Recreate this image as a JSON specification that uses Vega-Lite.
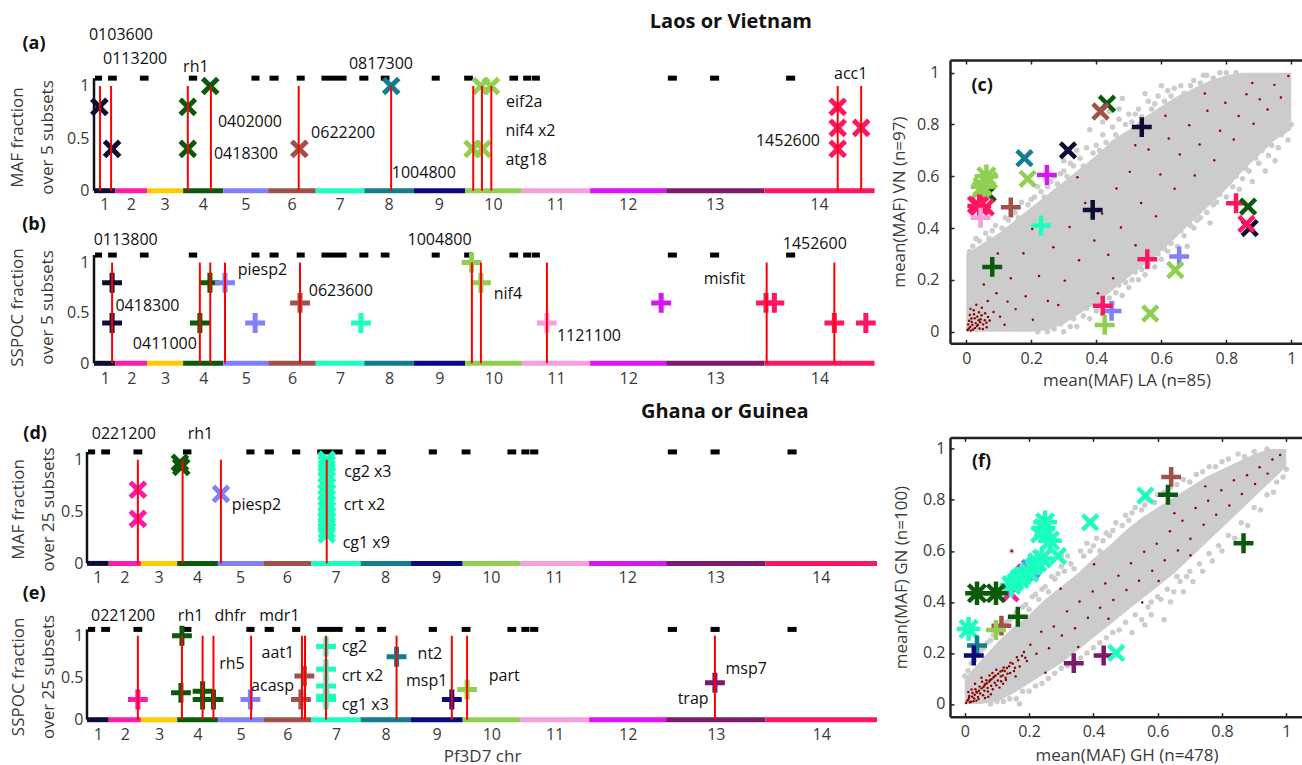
{
"$schema":"https://vega.github.io/schema/vega-lite/v6.json",
"padding":{"left":8,"top":12,"right":0,"bottom":0},
"background":"white",
"config":{"view":{"stroke":null},"axis":{"labelFont":"Open Sans","titleFont":"Open Sans","labelColor":"#3a3a3a","titleColor":"#3a3a3a","grid":false},"text":{"font":"Open Sans"}},
"datasets":{
"chroms":[{"chr":1,"start":0,"end":0.64,"mid":0.32},{"chr":2,"start":0.64,"end":1.59,"mid":1.115},{"chr":3,"start":1.59,"end":2.66,"mid":2.125},{"chr":4,"start":2.66,"end":3.86,"mid":3.26},{"chr":5,"start":3.86,"end":5.2,"mid":4.53},{"chr":6,"start":5.2,"end":6.62,"mid":5.91},{"chr":7,"start":6.62,"end":8.07,"mid":7.345},{"chr":8,"start":8.07,"end":9.54,"mid":8.805},{"chr":9,"start":9.54,"end":11.08,"mid":10.31},{"chr":10,"start":11.08,"end":12.77,"mid":11.925},{"chr":11,"start":12.77,"end":14.81,"mid":13.79},{"chr":12,"start":14.81,"end":17.08,"mid":15.945},{"chr":13,"start":17.08,"end":20.01,"mid":18.545},{"chr":14,"start":20.01,"end":23.3,"mid":21.655}],
"dashes":[{"start":0.03,"end":0.24},{"start":0.42,"end":0.68},{"start":1.37,"end":1.63},{"start":2.83,"end":3.08},{"start":4.7,"end":4.94},{"start":5.24,"end":5.51},{"start":6.05,"end":6.29},{"start":6.79,"end":7.54},{"start":7.92,"end":8.19},{"start":8.56,"end":8.82},{"start":10.08,"end":10.32},{"start":11.05,"end":11.31},{"start":12.4,"end":12.66},{"start":12.81,"end":13.05},{"start":13.07,"end":13.31},{"start":17.13,"end":17.4},{"start":18.39,"end":18.66},{"start":20.66,"end":20.93}],
"marks":[
{"panel":"a","pos":0.16,"frac":0.8,"chr":1,"type":"MAF"},{"panel":"a","pos":0.54,"frac":0.4,"chr":1,"type":"MAF"},{"panel":"a","pos":2.8,"frac":0.8,"chr":4,"type":"MAF"},{"panel":"a","pos":2.8,"frac":0.4,"chr":4,"type":"MAF"},{"panel":"a","pos":3.47,"frac":1,"chr":4,"type":"MAF"},{"panel":"a","pos":6.13,"frac":0.4,"chr":6,"type":"MAF"},{"panel":"a","pos":8.87,"frac":1,"chr":8,"type":"MAF"},{"panel":"a","pos":11.55,"frac":1,"chr":10,"type":"MAF"},{"panel":"a","pos":11.85,"frac":1,"chr":10,"type":"MAF"},{"panel":"a","pos":11.3,"frac":0.4,"chr":10,"type":"MAF"},{"panel":"a","pos":11.6,"frac":0.4,"chr":10,"type":"MAF"},{"panel":"a","pos":22.2,"frac":0.8,"chr":14,"type":"MAF"},{"panel":"a","pos":22.2,"frac":0.6,"chr":14,"type":"MAF"},{"panel":"a","pos":22.2,"frac":0.4,"chr":14,"type":"MAF"},{"panel":"a","pos":22.9,"frac":0.6,"chr":14,"type":"MAF"},
{"panel":"b","pos":0.54,"frac":0.8,"chr":1,"type":"SSPOC"},{"panel":"b","pos":0.54,"frac":0.4,"chr":1,"type":"SSPOC"},{"panel":"b","pos":3.46,"frac":0.8,"chr":4,"type":"SSPOC"},{"panel":"b","pos":3.16,"frac":0.4,"chr":4,"type":"SSPOC"},{"panel":"b","pos":3.91,"frac":0.8,"chr":5,"type":"SSPOC"},{"panel":"b","pos":4.81,"frac":0.4,"chr":5,"type":"SSPOC"},{"panel":"b","pos":6.15,"frac":0.6,"chr":6,"type":"SSPOC"},{"panel":"b","pos":7.97,"frac":0.4,"chr":7,"type":"SSPOC"},{"panel":"b","pos":11.27,"frac":1,"chr":10,"type":"SSPOC"},{"panel":"b","pos":11.55,"frac":0.8,"chr":10,"type":"SSPOC"},{"panel":"b","pos":13.52,"frac":0.4,"chr":11,"type":"SSPOC"},{"panel":"b","pos":16.93,"frac":0.6,"chr":12,"type":"SSPOC"},{"panel":"b","pos":20.06,"frac":0.6,"chr":14,"type":"SSPOC"},{"panel":"b","pos":20.31,"frac":0.6,"chr":14,"type":"SSPOC"},{"panel":"b","pos":22.1,"frac":0.4,"chr":14,"type":"SSPOC"},{"panel":"b","pos":23.04,"frac":0.4,"chr":14,"type":"SSPOC"},
{"panel":"d","pos":1.5,"frac":0.71,"chr":2,"type":"MAF"},{"panel":"d","pos":1.5,"frac":0.43,"chr":2,"type":"MAF"},{"panel":"d","pos":2.74,"frac":0.97,"chr":4,"type":"MAF"},{"panel":"d","pos":2.78,"frac":0.93,"chr":4,"type":"MAF"},{"panel":"d","pos":3.95,"frac":0.67,"chr":5,"type":"MAF"},
{"panel":"d","pos":7.07,"frac":1,"chr":7,"type":"MAF"},{"panel":"d","pos":7.07,"frac":0.96,"chr":7,"type":"MAF"},{"panel":"d","pos":7.07,"frac":0.92,"chr":7,"type":"MAF"},{"panel":"d","pos":7.07,"frac":0.86,"chr":7,"type":"MAF"},{"panel":"d","pos":7.07,"frac":0.8,"chr":7,"type":"MAF"},{"panel":"d","pos":7.07,"frac":0.74,"chr":7,"type":"MAF"},{"panel":"d","pos":7.07,"frac":0.68,"chr":7,"type":"MAF"},{"panel":"d","pos":7.07,"frac":0.63,"chr":7,"type":"MAF"},{"panel":"d","pos":7.07,"frac":0.58,"chr":7,"type":"MAF"},{"panel":"d","pos":7.07,"frac":0.52,"chr":7,"type":"MAF"},{"panel":"d","pos":7.07,"frac":0.46,"chr":7,"type":"MAF"},{"panel":"d","pos":7.07,"frac":0.42,"chr":7,"type":"MAF"},{"panel":"d","pos":7.07,"frac":0.37,"chr":7,"type":"MAF"},{"panel":"d","pos":7.07,"frac":0.32,"chr":7,"type":"MAF"},{"panel":"d","pos":7.07,"frac":0.28,"chr":7,"type":"MAF"},
{"panel":"e","pos":1.5,"frac":0.24,"chr":2,"type":"SSPOC"},{"panel":"e","pos":2.8,"frac":1,"chr":4,"type":"SSPOC"},{"panel":"e","pos":2.77,"frac":0.32,"chr":4,"type":"SSPOC"},{"panel":"e","pos":3.41,"frac":0.34,"chr":4,"type":"SSPOC"},{"panel":"e","pos":3.41,"frac":0.24,"chr":4,"type":"SSPOC"},{"panel":"e","pos":3.73,"frac":0.24,"chr":4,"type":"SSPOC"},{"panel":"e","pos":4.82,"frac":0.24,"chr":5,"type":"SSPOC"},{"panel":"e","pos":6.41,"frac":0.52,"chr":6,"type":"SSPOC"},{"panel":"e","pos":6.31,"frac":0.24,"chr":6,"type":"SSPOC"},{"panel":"e","pos":7.05,"frac":0.87,"chr":7,"type":"SSPOC"},{"panel":"e","pos":7.05,"frac":0.6,"chr":7,"type":"SSPOC"},{"panel":"e","pos":7.05,"frac":0.4,"chr":7,"type":"SSPOC"},{"panel":"e","pos":7.05,"frac":0.28,"chr":7,"type":"SSPOC"},{"panel":"e","pos":7.05,"frac":0.24,"chr":7,"type":"SSPOC"},{"panel":"e","pos":9.13,"frac":0.75,"chr":8,"type":"SSPOC"},{"panel":"e","pos":10.76,"frac":0.24,"chr":9,"type":"SSPOC"},{"panel":"e","pos":11.21,"frac":0.36,"chr":10,"type":"SSPOC"},{"panel":"e","pos":18.52,"frac":0.44,"chr":13,"type":"SSPOC"}],
"lines":[{"panel":"a","pos":0.18},{"panel":"a","pos":0.51},{"panel":"a","pos":2.8},{"panel":"a","pos":3.49},{"panel":"a","pos":6.11},{"panel":"a","pos":8.87},{"panel":"a","pos":11.32},{"panel":"a","pos":11.58},{"panel":"a","pos":11.86},{"panel":"a","pos":22.2},{"panel":"a","pos":22.9},
{"panel":"b","pos":0.54},{"panel":"b","pos":3.16},{"panel":"b","pos":3.47},{"panel":"b","pos":3.91},{"panel":"b","pos":6.15},{"panel":"b","pos":11.28},{"panel":"b","pos":11.55},{"panel":"b","pos":13.52},{"panel":"b","pos":20.08},{"panel":"b","pos":22.1},
{"panel":"d","pos":1.5},{"panel":"d","pos":2.82},{"panel":"d","pos":3.95},{"panel":"d","pos":7.07},
{"panel":"e","pos":1.5},{"panel":"e","pos":2.8},{"panel":"e","pos":3.41},{"panel":"e","pos":3.73},{"panel":"e","pos":4.84},{"panel":"e","pos":6.34},{"panel":"e","pos":6.43},{"panel":"e","pos":7.05},{"panel":"e","pos":9.13},{"panel":"e","pos":10.76},{"panel":"e","pos":11.21},{"panel":"e","pos":18.52}],
"labels":[{"panel":"a","pos":-0.15,"frac":1.49,"text":"0103600"},{"panel":"a","pos":0.27,"frac":1.26,"text":"0113200"},{"panel":"a","pos":2.66,"frac":1.18,"text":"rh1"},{"panel":"a","pos":3.7,"frac":0.66,"text":"0402000"},{"panel":"a","pos":3.58,"frac":0.35,"text":"0418300"},{"panel":"a","pos":6.48,"frac":0.55,"text":"0622200"},{"panel":"a","pos":7.61,"frac":1.21,"text":"0817300"},{"panel":"a","pos":8.89,"frac":0.17,"text":"1004800"},{"panel":"a","pos":12.3,"frac":0.85,"text":"eif2a"},{"panel":"a","pos":12.28,"frac":0.57,"text":"nif4 x2"},{"panel":"a","pos":12.28,"frac":0.29,"text":"atg18"},{"panel":"a","pos":19.76,"frac":0.47,"text":"1452600"},{"panel":"a","pos":22.09,"frac":1.11,"text":"acc1"},
{"panel":"b","pos":-0.01,"frac":1.22,"text":"0113800"},{"panel":"b","pos":0.64,"frac":0.57,"text":"0418300"},{"panel":"b","pos":1.16,"frac":0.19,"text":"0411000"},{"panel":"b","pos":4.29,"frac":0.93,"text":"piesp2"},{"panel":"b","pos":6.41,"frac":0.72,"text":"0623600"},{"panel":"b","pos":9.36,"frac":1.22,"text":"1004800"},{"panel":"b","pos":11.93,"frac":0.685,"text":"nif4"},{"panel":"b","pos":13.82,"frac":0.27,"text":"1121100"},{"panel":"b","pos":18.2,"frac":0.84,"text":"misfit"},{"panel":"b","pos":20.56,"frac":1.18,"text":"1452600"},
{"panel":"d","pos":0.14,"frac":1.25,"text":"0221200"},{"panel":"d","pos":2.97,"frac":1.25,"text":"rh1"},{"panel":"d","pos":4.27,"frac":0.56,"text":"piesp2"},{"panel":"d","pos":7.59,"frac":0.88,"text":"cg2 x3"},{"panel":"d","pos":7.57,"frac":0.56,"text":"crt x2"},{"panel":"d","pos":7.54,"frac":0.2,"text":"cg1 x9"},
{"panel":"e","pos":0.12,"frac":1.24,"text":"0221200"},{"panel":"e","pos":2.68,"frac":1.24,"text":"rh1"},{"panel":"e","pos":3.76,"frac":1.24,"text":"dhfr"},{"panel":"e","pos":5.08,"frac":1.24,"text":"mdr1"},{"panel":"e","pos":3.9,"frac":0.66,"text":"rh5"},{"panel":"e","pos":5.15,"frac":0.79,"text":"aat1"},{"panel":"e","pos":4.84,"frac":0.4,"text":"acasp"},{"panel":"e","pos":7.51,"frac":0.87,"text":"cg2"},{"panel":"e","pos":7.51,"frac":0.52,"text":"crt x2"},{"panel":"e","pos":7.51,"frac":0.17,"text":"cg1 x3"},{"panel":"e","pos":9.75,"frac":0.78,"text":"nt2"},{"panel":"e","pos":9.41,"frac":0.46,"text":"msp1"},{"panel":"e","pos":11.85,"frac":0.52,"text":"part"},{"panel":"e","pos":18.83,"frac":0.6,"text":"msp7"},{"panel":"e","pos":17.42,"frac":0.25,"text":"trap"}],
"tags":[{"panel":"a","pos":-1.79,"frac":1.4,"text":"(a)"},{"panel":"b","pos":-1.79,"frac":1.37,"text":"(b)"},{"panel":"d","pos":-1.53,"frac":1.25,"text":"(d)"},{"panel":"e","pos":-1.56,"frac":1.5,"text":"(e)"}],
"heads":[{"panel":"a","pos":19.01,"frac":1.61,"text":"Laos or Vietnam"},{"panel":"d","pos":18.81,"frac":1.456,"text":"Ghana or Guinea"}],
"cloud":[{"panel":"c","x":0,"lo":0,"hi":0.3},{"panel":"c","x":0.05,"lo":0,"hi":0.34},{"panel":"c","x":0.1,"lo":0,"hi":0.38},{"panel":"c","x":0.15,"lo":0,"hi":0.43},{"panel":"c","x":0.2,"lo":0,"hi":0.48},{"panel":"c","x":0.25,"lo":0.005,"hi":0.53},{"panel":"c","x":0.3,"lo":0.03,"hi":0.58},{"panel":"c","x":0.35,"lo":0.07,"hi":0.63},{"panel":"c","x":0.4,"lo":0.11,"hi":0.68},{"panel":"c","x":0.45,"lo":0.16,"hi":0.74},{"panel":"c","x":0.5,"lo":0.21,"hi":0.78},{"panel":"c","x":0.55,"lo":0.26,"hi":0.83},{"panel":"c","x":0.6,"lo":0.31,"hi":0.87},{"panel":"c","x":0.65,"lo":0.37,"hi":0.91},{"panel":"c","x":0.7,"lo":0.43,"hi":0.94},{"panel":"c","x":0.75,"lo":0.49,"hi":0.97},{"panel":"c","x":0.8,"lo":0.55,"hi":0.99},{"panel":"c","x":0.85,"lo":0.62,"hi":1},{"panel":"c","x":0.9,"lo":0.68,"hi":1},{"panel":"c","x":0.95,"lo":0.74,"hi":1},{"panel":"c","x":1,"lo":0.78,"hi":1},
{"panel":"f","x":0,"lo":0,"hi":0.1},{"panel":"f","x":0.05,"lo":0,"hi":0.17},{"panel":"f","x":0.1,"lo":0.01,"hi":0.24},{"panel":"f","x":0.15,"lo":0.04,"hi":0.3},{"panel":"f","x":0.2,"lo":0.08,"hi":0.35},{"panel":"f","x":0.25,"lo":0.12,"hi":0.41},{"panel":"f","x":0.3,"lo":0.16,"hi":0.46},{"panel":"f","x":0.35,"lo":0.21,"hi":0.51},{"panel":"f","x":0.4,"lo":0.26,"hi":0.57},{"panel":"f","x":0.45,"lo":0.31,"hi":0.62},{"panel":"f","x":0.5,"lo":0.36,"hi":0.68},{"panel":"f","x":0.55,"lo":0.41,"hi":0.73},{"panel":"f","x":0.6,"lo":0.46,"hi":0.77},{"panel":"f","x":0.65,"lo":0.51,"hi":0.81},{"panel":"f","x":0.7,"lo":0.57,"hi":0.85},{"panel":"f","x":0.75,"lo":0.63,"hi":0.89},{"panel":"f","x":0.8,"lo":0.69,"hi":0.92},{"panel":"f","x":0.85,"lo":0.75,"hi":0.95},{"panel":"f","x":0.9,"lo":0.81,"hi":0.98},{"panel":"f","x":0.95,"lo":0.87,"hi":1},{"panel":"f","x":1,"lo":0.93,"hi":1}],
"gray":[{"panel":"c","x":0.02,"y":0.33},{"panel":"c","x":0.03,"y":0.36},{"panel":"c","x":0.06,"y":0.38},{"panel":"c","x":0.09,"y":0.41},{"panel":"c","x":0.12,"y":0.44},{"panel":"c","x":0.15,"y":0.46},{"panel":"c","x":0.17,"y":0.5},{"panel":"c","x":0.21,"y":0.52},{"panel":"c","x":0.25,"y":0.56},{"panel":"c","x":0.27,"y":0.6},{"panel":"c","x":0.3,"y":0.62},{"panel":"c","x":0.33,"y":0.64},{"panel":"c","x":0.35,"y":0.67},{"panel":"c","x":0.37,"y":0.71},{"panel":"c","x":0.4,"y":0.72},{"panel":"c","x":0.42,"y":0.76},{"panel":"c","x":0.45,"y":0.79},{"panel":"c","x":0.47,"y":0.82},{"panel":"c","x":0.5,"y":0.84},{"panel":"c","x":0.53,"y":0.86},{"panel":"c","x":0.56,"y":0.89},{"panel":"c","x":0.59,"y":0.91},{"panel":"c","x":0.62,"y":0.93},{"panel":"c","x":0.66,"y":0.95},{"panel":"c","x":0.7,"y":0.97},{"panel":"c","x":0.74,"y":0.99},{"panel":"c","x":0.78,"y":1},{"panel":"c","x":0.38,"y":0.78},{"panel":"c","x":0.44,"y":0.85},{"panel":"c","x":0.48,"y":0.9},{"panel":"c","x":0.34,"y":0.7},{"panel":"c","x":0.3,"y":0.66},{"panel":"c","x":0.22,"y":0.56},{"panel":"c","x":0.55,"y":0.92},{"panel":"c","x":0.6,"y":0.95},
{"panel":"c","x":0.01,"y":0.31},{"panel":"c","x":0.04,"y":0.35},{"panel":"c","x":0.07,"y":0.36},{"panel":"c","x":0.08,"y":0.39},{"panel":"c","x":0.11,"y":0.4},{"panel":"c","x":0.13,"y":0.43},{"panel":"c","x":0.14,"y":0.45},{"panel":"c","x":0.16,"y":0.44},{"panel":"c","x":0.19,"y":0.49},{"panel":"c","x":0.2,"y":0.51},{"panel":"c","x":0.23,"y":0.54},{"panel":"c","x":0.24,"y":0.52},{"panel":"c","x":0.26,"y":0.58},{"panel":"c","x":0.28,"y":0.57},{"panel":"c","x":0.29,"y":0.61},{"panel":"c","x":0.31,"y":0.6},{"panel":"c","x":0.32,"y":0.65},{"panel":"c","x":0.36,"y":0.64},{"panel":"c","x":0.39,"y":0.69},{"panel":"c","x":0.41,"y":0.7},{"panel":"c","x":0.43,"y":0.73},{"panel":"c","x":0.46,"y":0.76},{"panel":"c","x":0.49,"y":0.8},{"panel":"c","x":0.51,"y":0.81},{"panel":"c","x":0.52,"y":0.84},{"panel":"c","x":0.54,"y":0.83},{"panel":"c","x":0.57,"y":0.86},{"panel":"c","x":0.58,"y":0.88},{"panel":"c","x":0.61,"y":0.89},{"panel":"c","x":0.63,"y":0.91},{"panel":"c","x":0.64,"y":0.94},{"panel":"c","x":0.67,"y":0.92},{"panel":"c","x":0.69,"y":0.95},{"panel":"c","x":0.72,"y":0.96},{"panel":"c","x":0.73,"y":0.99},{"panel":"c","x":0.76,"y":0.98},{"panel":"c","x":0.8,"y":1},{"panel":"c","x":0.83,"y":1},{"panel":"c","x":0.47,"y":0.86},{"panel":"c","x":0.42,"y":0.81},
{"panel":"c","x":0.25,"y":0},{"panel":"c","x":0.3,"y":0},{"panel":"c","x":0.34,"y":0.02},{"panel":"c","x":0.38,"y":0.05},{"panel":"c","x":0.42,"y":0.07},{"panel":"c","x":0.45,"y":0.11},{"panel":"c","x":0.48,"y":0.14},{"panel":"c","x":0.5,"y":0.17},{"panel":"c","x":0.53,"y":0.2},{"panel":"c","x":0.55,"y":0.22},{"panel":"c","x":0.58,"y":0.25},{"panel":"c","x":0.6,"y":0.28},{"panel":"c","x":0.62,"y":0.31},{"panel":"c","x":0.65,"y":0.33},{"panel":"c","x":0.67,"y":0.37},{"panel":"c","x":0.7,"y":0.4},{"panel":"c","x":0.72,"y":0.44},{"panel":"c","x":0.74,"y":0.46},{"panel":"c","x":0.77,"y":0.5},{"panel":"c","x":0.8,"y":0.52},{"panel":"c","x":0.82,"y":0.56},{"panel":"c","x":0.85,"y":0.59},{"panel":"c","x":0.87,"y":0.62},{"panel":"c","x":0.9,"y":0.65},{"panel":"c","x":0.93,"y":0.68},{"panel":"c","x":0.96,"y":0.71},{"panel":"c","x":0.99,"y":0.74},{"panel":"c","x":0.88,"y":0.58},{"panel":"c","x":0.92,"y":0.62},{"panel":"c","x":0.68,"y":0.33},{"panel":"c","x":0.75,"y":0.42},
{"panel":"c","x":0.22,"y":0},{"panel":"c","x":0.27,"y":0.01},{"panel":"c","x":0.29,"y":0.03},{"panel":"c","x":0.32,"y":0.02},{"panel":"c","x":0.33,"y":0.05},{"panel":"c","x":0.36,"y":0.06},{"panel":"c","x":0.37,"y":0.09},{"panel":"c","x":0.4,"y":0.08},{"panel":"c","x":0.41,"y":0.11},{"panel":"c","x":0.44,"y":0.13},{"panel":"c","x":0.46,"y":0.15},{"panel":"c","x":0.47,"y":0.18},{"panel":"c","x":0.49,"y":0.19},{"panel":"c","x":0.51,"y":0.2},{"panel":"c","x":0.52,"y":0.23},{"panel":"c","x":0.54,"y":0.24},{"panel":"c","x":0.56,"y":0.26},{"panel":"c","x":0.57,"y":0.29},{"panel":"c","x":0.59,"y":0.3},{"panel":"c","x":0.61,"y":0.32},{"panel":"c","x":0.63,"y":0.34},{"panel":"c","x":0.64,"y":0.37},{"panel":"c","x":0.66,"y":0.39},{"panel":"c","x":0.69,"y":0.41},{"panel":"c","x":0.71,"y":0.43},{"panel":"c","x":0.73,"y":0.48},{"panel":"c","x":0.76,"y":0.49},{"panel":"c","x":0.78,"y":0.53},{"panel":"c","x":0.79,"y":0.56},{"panel":"c","x":0.81,"y":0.58},{"panel":"c","x":0.83,"y":0.6},{"panel":"c","x":0.86,"y":0.63},{"panel":"c","x":0.89,"y":0.67},{"panel":"c","x":0.91,"y":0.7},{"panel":"c","x":0.94,"y":0.72},{"panel":"c","x":0.97,"y":0.76},{"panel":"c","x":1,"y":0.8},{"panel":"c","x":0.84,"y":0.55},{"panel":"c","x":0.95,"y":0.66},{"panel":"c","x":0.6,"y":0.33},
{"panel":"f","x":0.01,"y":0.13},{"panel":"f","x":0.03,"y":0.17},{"panel":"f","x":0.05,"y":0.21},{"panel":"f","x":0.08,"y":0.25},{"panel":"f","x":0.11,"y":0.3},{"panel":"f","x":0.14,"y":0.33},{"panel":"f","x":0.18,"y":0.38},{"panel":"f","x":0.21,"y":0.42},{"panel":"f","x":0.24,"y":0.45},{"panel":"f","x":0.27,"y":0.5},{"panel":"f","x":0.3,"y":0.54},{"panel":"f","x":0.32,"y":0.58},{"panel":"f","x":0.36,"y":0.6},{"panel":"f","x":0.38,"y":0.63},{"panel":"f","x":0.41,"y":0.65},{"panel":"f","x":0.44,"y":0.67},{"panel":"f","x":0.47,"y":0.71},{"panel":"f","x":0.5,"y":0.74},{"panel":"f","x":0.53,"y":0.77},{"panel":"f","x":0.57,"y":0.8},{"panel":"f","x":0.6,"y":0.82},{"panel":"f","x":0.64,"y":0.85},{"panel":"f","x":0.68,"y":0.88},{"panel":"f","x":0.72,"y":0.9},{"panel":"f","x":0.76,"y":0.93},{"panel":"f","x":0.8,"y":0.95},{"panel":"f","x":0.85,"y":0.98},{"panel":"f","x":0.146,"y":0.6},{"panel":"f","x":0.42,"y":0.6},{"panel":"f","x":0.3,"y":0.58},
{"panel":"f","x":0,"y":0.11},{"panel":"f","x":0.02,"y":0.16},{"panel":"f","x":0.04,"y":0.19},{"panel":"f","x":0.06,"y":0.22},{"panel":"f","x":0.07,"y":0.24},{"panel":"f","x":0.09,"y":0.27},{"panel":"f","x":0.1,"y":0.28},{"panel":"f","x":0.12,"y":0.31},{"panel":"f","x":0.13,"y":0.32},{"panel":"f","x":0.15,"y":0.34},{"panel":"f","x":0.16,"y":0.36},{"panel":"f","x":0.19,"y":0.39},{"panel":"f","x":0.2,"y":0.37},{"panel":"f","x":0.22,"y":0.43},{"panel":"f","x":0.23,"y":0.41},{"panel":"f","x":0.25,"y":0.46},{"panel":"f","x":0.26,"y":0.44},{"panel":"f","x":0.28,"y":0.49},{"panel":"f","x":0.29,"y":0.51},{"panel":"f","x":0.31,"y":0.52},{"panel":"f","x":0.33,"y":0.55},{"panel":"f","x":0.34,"y":0.53},{"panel":"f","x":0.37,"y":0.58},{"panel":"f","x":0.39,"y":0.6},{"panel":"f","x":0.4,"y":0.62},{"panel":"f","x":0.43,"y":0.64},{"panel":"f","x":0.45,"y":0.66},{"panel":"f","x":0.46,"y":0.68},{"panel":"f","x":0.49,"y":0.7},{"panel":"f","x":0.51,"y":0.72},{"panel":"f","x":0.52,"y":0.75},{"panel":"f","x":0.55,"y":0.76},{"panel":"f","x":0.56,"y":0.78},{"panel":"f","x":0.59,"y":0.79},{"panel":"f","x":0.62,"y":0.83},{"panel":"f","x":0.66,"y":0.86},{"panel":"f","x":0.7,"y":0.87},{"panel":"f","x":0.74,"y":0.91},{"panel":"f","x":0.78,"y":0.93},{"panel":"f","x":0.82,"y":0.96},{"panel":"f","x":0.87,"y":0.97},{"panel":"f","x":0.9,"y":0.99},{"panel":"f","x":0.94,"y":1},
{"panel":"f","x":0.12,"y":0.01},{"panel":"f","x":0.16,"y":0.02},{"panel":"f","x":0.2,"y":0.05},{"panel":"f","x":0.24,"y":0.08},{"panel":"f","x":0.28,"y":0.12},{"panel":"f","x":0.32,"y":0.15},{"panel":"f","x":0.36,"y":0.18},{"panel":"f","x":0.4,"y":0.22},{"panel":"f","x":0.44,"y":0.26},{"panel":"f","x":0.48,"y":0.29},{"panel":"f","x":0.52,"y":0.28},{"panel":"f","x":0.55,"y":0.33},{"panel":"f","x":0.58,"y":0.35},{"panel":"f","x":0.62,"y":0.33},{"panel":"f","x":0.64,"y":0.4},{"panel":"f","x":0.68,"y":0.44},{"panel":"f","x":0.71,"y":0.48},{"panel":"f","x":0.74,"y":0.52},{"panel":"f","x":0.77,"y":0.56},{"panel":"f","x":0.8,"y":0.6},{"panel":"f","x":0.84,"y":0.65},{"panel":"f","x":0.88,"y":0.7},{"panel":"f","x":0.92,"y":0.76},{"panel":"f","x":0.96,"y":0.83},{"panel":"f","x":0.99,"y":0.89},{"panel":"f","x":0.17,"y":0},{"panel":"f","x":0.6,"y":0.42},{"panel":"f","x":0.66,"y":0.5},{"panel":"f","x":0.7,"y":0.52},
{"panel":"f","x":0.08,"y":0},{"panel":"f","x":0.1,"y":0.01},{"panel":"f","x":0.14,"y":0.02},{"panel":"f","x":0.18,"y":0.05},{"panel":"f","x":0.22,"y":0.07},{"panel":"f","x":0.26,"y":0.1},{"panel":"f","x":0.3,"y":0.14},{"panel":"f","x":0.34,"y":0.17},{"panel":"f","x":0.38,"y":0.2},{"panel":"f","x":0.42,"y":0.24},{"panel":"f","x":0.46,"y":0.28},{"panel":"f","x":0.5,"y":0.32},{"panel":"f","x":0.53,"y":0.35},{"panel":"f","x":0.57,"y":0.38},{"panel":"f","x":0.61,"y":0.41},{"panel":"f","x":0.63,"y":0.45},{"panel":"f","x":0.67,"y":0.48},{"panel":"f","x":0.69,"y":0.5},{"panel":"f","x":0.73,"y":0.55},{"panel":"f","x":0.76,"y":0.59},{"panel":"f","x":0.79,"y":0.62},{"panel":"f","x":0.82,"y":0.66},{"panel":"f","x":0.86,"y":0.71},{"panel":"f","x":0.9,"y":0.77},{"panel":"f","x":0.94,"y":0.82},{"panel":"f","x":0.97,"y":0.87},{"panel":"f","x":1,"y":0.92},{"panel":"f","x":0.56,"y":0.31},{"panel":"f","x":0.65,"y":0.44},{"panel":"f","x":0.58,"y":0.4}],
"red":[{"panel":"c","x":0.004,"y":0.006},{"panel":"c","x":0.012,"y":0.018},{"panel":"c","x":0.021,"y":0.008},{"panel":"c","x":0.017,"y":0.037},{"panel":"c","x":0.033,"y":0.022},{"panel":"c","x":0.026,"y":0.052},{"panel":"c","x":0.041,"y":0.012},{"panel":"c","x":0.038,"y":0.044},{"panel":"c","x":0.052,"y":0.028},{"panel":"c","x":0.047,"y":0.063},{"panel":"c","x":0.063,"y":0.017},{"panel":"c","x":0.011,"y":0.064},{"panel":"c","x":0.023,"y":0.083},{"panel":"c","x":0.058,"y":0.071},{"panel":"c","x":0.072,"y":0.043},{"panel":"c","x":0.084,"y":0.076},{"panel":"c","x":0.031,"y":0.104},{"panel":"c","x":0.066,"y":0.118},{"panel":"c","x":0.104,"y":0.058},{"panel":"c","x":0.118,"y":0.027},{"panel":"c","x":0.093,"y":0.148},{"panel":"c","x":0.127,"y":0.116},{"panel":"c","x":0.152,"y":0.087},{"panel":"c","x":0.054,"y":0.182},{"panel":"c","x":0.137,"y":0.206},{"panel":"c","x":0.183,"y":0.137},{"panel":"c","x":0.205,"y":0.046},{"panel":"c","x":0.078,"y":0.251},{"panel":"c","x":0.176,"y":0.303},{"panel":"c","x":0.224,"y":0.215},{"panel":"c","x":0.251,"y":0.118},{"panel":"c","x":0.268,"y":0.326},{"panel":"c","x":0.303,"y":0.197},{"panel":"c","x":0.318,"y":0.404},{"panel":"c","x":0.347,"y":0.276},{"panel":"c","x":0.366,"y":0.497},{"panel":"c","x":0.394,"y":0.352},{"panel":"c","x":0.405,"y":0.148},{"panel":"c","x":0.418,"y":0.456},{"panel":"c","x":0.437,"y":0.297},{"panel":"c","x":0.462,"y":0.553},{"panel":"c","x":0.476,"y":0.402},{"panel":"c","x":0.503,"y":0.617},{"panel":"c","x":0.521,"y":0.334},{"panel":"c","x":0.538,"y":0.497},{"panel":"c","x":0.561,"y":0.703},{"panel":"c","x":0.584,"y":0.446},{"panel":"c","x":0.597,"y":0.607},{"panel":"c","x":0.623,"y":0.746},{"panel":"c","x":0.641,"y":0.552},{"panel":"c","x":0.657,"y":0.684},{"panel":"c","x":0.686,"y":0.797},{"panel":"c","x":0.703,"y":0.603},{"panel":"c","x":0.718,"y":0.723},{"panel":"c","x":0.742,"y":0.853},{"panel":"c","x":0.763,"y":0.662},{"panel":"c","x":0.781,"y":0.776},{"panel":"c","x":0.797,"y":0.884},{"panel":"c","x":0.823,"y":0.742},{"panel":"c","x":0.838,"y":0.833},{"panel":"c","x":0.862,"y":0.917},{"panel":"c","x":0.884,"y":0.803},{"panel":"c","x":0.903,"y":0.897},{"panel":"c","x":0.927,"y":0.858},{"panel":"c","x":0.948,"y":0.953},{"panel":"c","x":0.968,"y":0.904},{"panel":"c","x":0.991,"y":0.987},{"panel":"c","x":0.097,"y":0.302},{"panel":"c","x":0.203,"y":0.396},{"panel":"c","x":0.283,"y":0.103},{"panel":"c","x":0.342,"y":0.596},{"panel":"c","x":0.452,"y":0.206},{"panel":"c","x":0.613,"y":0.834},{"panel":"c","x":0.734,"y":0.92},{"panel":"c","x":0.88,"y":0.96},{"panel":"c","x":0.52,"y":0.72},
{"panel":"c","x":0.008,"y":0.012},{"panel":"c","x":0.014,"y":0.004},{"panel":"c","x":0.019,"y":0.026},{"panel":"c","x":0.027,"y":0.014},{"panel":"c","x":0.029,"y":0.033},{"panel":"c","x":0.036,"y":0.027},{"panel":"c","x":0.043,"y":0.036},{"panel":"c","x":0.009,"y":0.042},{"panel":"c","x":0.016,"y":0.051},{"panel":"c","x":0.034,"y":0.058},{"panel":"c","x":0.044,"y":0.048},{"panel":"c","x":0.051,"y":0.01},{"panel":"c","x":0.057,"y":0.044},{"panel":"c","x":0.006,"y":0.028},{"panel":"c","x":0.024,"y":0.067},{"panel":"c","x":0.039,"y":0.075},{"panel":"c","x":0.062,"y":0.034},{"panel":"c","x":0.067,"y":0.057},{"panel":"c","x":0.013,"y":0.088},{"panel":"c","x":0.048,"y":0.092},
{"panel":"f","x":0.004,"y":0.004},{"panel":"f","x":0.011,"y":0.017},{"panel":"f","x":0.019,"y":0.009},{"panel":"f","x":0.014,"y":0.031},{"panel":"f","x":0.029,"y":0.021},{"panel":"f","x":0.024,"y":0.043},{"panel":"f","x":0.041,"y":0.027},{"panel":"f","x":0.033,"y":0.058},{"panel":"f","x":0.048,"y":0.041},{"panel":"f","x":0.046,"y":0.068},{"panel":"f","x":0.061,"y":0.052},{"panel":"f","x":0.054,"y":0.087},{"panel":"f","x":0.071,"y":0.063},{"panel":"f","x":0.067,"y":0.093},{"panel":"f","x":0.082,"y":0.071},{"panel":"f","x":0.077,"y":0.112},{"panel":"f","x":0.093,"y":0.083},{"panel":"f","x":0.086,"y":0.121},{"panel":"f","x":0.103,"y":0.092},{"panel":"f","x":0.098,"y":0.134},{"panel":"f","x":0.112,"y":0.108},{"panel":"f","x":0.121,"y":0.143},{"panel":"f","x":0.133,"y":0.118},{"panel":"f","x":0.142,"y":0.162},{"panel":"f","x":0.153,"y":0.129},{"panel":"f","x":0.021,"y":0.057},{"panel":"f","x":0.052,"y":0.103},{"panel":"f","x":0.032,"y":0.079},{"panel":"f","x":0.063,"y":0.023},{"panel":"f","x":0.081,"y":0.038},{"panel":"f","x":0.119,"y":0.079},{"panel":"f","x":0.162,"y":0.183},{"panel":"f","x":0.171,"y":0.147},{"panel":"f","x":0.184,"y":0.204},{"panel":"f","x":0.193,"y":0.168},{"panel":"f","x":0.204,"y":0.232},{"panel":"f","x":0.011,"y":0.047},{"panel":"f","x":0.036,"y":0.013},{"panel":"f","x":0.073,"y":0.028},{"panel":"f","x":0.108,"y":0.064},{"panel":"f","x":0.128,"y":0.094},{"panel":"f","x":0.158,"y":0.108},
{"panel":"f","x":0.008,"y":0.013},{"panel":"f","x":0.016,"y":0.007},{"panel":"f","x":0.023,"y":0.028},{"panel":"f","x":0.031,"y":0.036},{"panel":"f","x":0.038,"y":0.045},{"panel":"f","x":0.044,"y":0.052},{"panel":"f","x":0.052,"y":0.061},{"panel":"f","x":0.058,"y":0.066},{"panel":"f","x":0.064,"y":0.078},{"panel":"f","x":0.069,"y":0.081},{"panel":"f","x":0.076,"y":0.088},{"panel":"f","x":0.083,"y":0.097},{"panel":"f","x":0.089,"y":0.104},{"panel":"f","x":0.096,"y":0.112},{"panel":"f","x":0.104,"y":0.118},{"panel":"f","x":0.111,"y":0.127},{"panel":"f","x":0.117,"y":0.131},{"panel":"f","x":0.124,"y":0.129},{"panel":"f","x":0.131,"y":0.141},{"panel":"f","x":0.138,"y":0.148},{"panel":"f","x":0.027,"y":0.011},{"panel":"f","x":0.043,"y":0.019},{"panel":"f","x":0.057,"y":0.034},{"panel":"f","x":0.072,"y":0.049},{"panel":"f","x":0.087,"y":0.058},{"panel":"f","x":0.098,"y":0.073},{"panel":"f","x":0.113,"y":0.089},{"panel":"f","x":0.127,"y":0.103},{"panel":"f","x":0.141,"y":0.121},{"panel":"f","x":0.156,"y":0.142},{"panel":"f","x":0.013,"y":0.024},{"panel":"f","x":0.036,"y":0.048},{"panel":"f","x":0.061,"y":0.072},{"panel":"f","x":0.079,"y":0.094},{"panel":"f","x":0.092,"y":0.108},{"panel":"f","x":0.118,"y":0.112},{"panel":"f","x":0.149,"y":0.158},{"panel":"f","x":0.166,"y":0.171},{"panel":"f","x":0.178,"y":0.189},{"panel":"f","x":0.188,"y":0.181},
{"panel":"f","x":0.223,"y":0.197},{"panel":"f","x":0.238,"y":0.283},{"panel":"f","x":0.262,"y":0.218},{"panel":"f","x":0.277,"y":0.304},{"panel":"f","x":0.302,"y":0.268},{"panel":"f","x":0.318,"y":0.363},{"panel":"f","x":0.343,"y":0.297},{"panel":"f","x":0.357,"y":0.402},{"panel":"f","x":0.383,"y":0.338},{"panel":"f","x":0.398,"y":0.441},{"panel":"f","x":0.421,"y":0.377},{"panel":"f","x":0.437,"y":0.472},{"panel":"f","x":0.462,"y":0.408},{"panel":"f","x":0.478,"y":0.503},{"panel":"f","x":0.503,"y":0.447},{"panel":"f","x":0.517,"y":0.552},{"panel":"f","x":0.542,"y":0.483},{"panel":"f","x":0.558,"y":0.597},{"panel":"f","x":0.583,"y":0.522},{"panel":"f","x":0.597,"y":0.628},{"panel":"f","x":0.622,"y":0.563},{"panel":"f","x":0.638,"y":0.677},{"panel":"f","x":0.663,"y":0.602},{"panel":"f","x":0.677,"y":0.718},{"panel":"f","x":0.702,"y":0.648},{"panel":"f","x":0.718,"y":0.768},{"panel":"f","x":0.743,"y":0.703},{"panel":"f","x":0.757,"y":0.797},{"panel":"f","x":0.782,"y":0.742},{"panel":"f","x":0.798,"y":0.838},{"panel":"f","x":0.823,"y":0.778},{"panel":"f","x":0.837,"y":0.877},{"panel":"f","x":0.862,"y":0.823},{"panel":"f","x":0.878,"y":0.897},{"panel":"f","x":0.903,"y":0.862},{"panel":"f","x":0.917,"y":0.928},{"panel":"f","x":0.942,"y":0.903},{"panel":"f","x":0.957,"y":0.958},{"panel":"f","x":0.981,"y":0.976},{"panel":"f","x":0.146,"y":0.6},{"panel":"f","x":0.251,"y":0.122},{"panel":"f","x":0.353,"y":0.223},{"panel":"f","x":0.447,"y":0.334},{"panel":"f","x":0.552,"y":0.398},{"panel":"f","x":0.298,"y":0.452},{"panel":"f","x":0.402,"y":0.548},{"panel":"f","x":0.603,"y":0.482},{"panel":"f","x":0.702,"y":0.583},{"panel":"f","x":0.748,"y":0.853},{"panel":"f","x":0.652,"y":0.748}],
"scat":[{"panel":"c","x":0.433,"y":0.88,"chr":4,"type":"MAF"},{"panel":"c","x":0.413,"y":0.85,"chr":6,"type":"MAF"},{"panel":"c","x":0.54,"y":0.79,"chr":1,"type":"SSPOC"},{"panel":"c","x":0.313,"y":0.7,"chr":1,"type":"MAF"},{"panel":"c","x":0.179,"y":0.67,"chr":8,"type":"MAF"},{"panel":"c","x":0.189,"y":0.59,"chr":10,"type":"MAF"},{"panel":"c","x":0.248,"y":0.605,"chr":12,"type":"SSPOC"},{"panel":"c","x":0.066,"y":0.534,"chr":4,"type":"MAF"},{"panel":"c","x":0.045,"y":0.55,"chr":10,"type":"MAF"},{"panel":"c","x":0.05,"y":0.56,"chr":10,"type":"both"},{"panel":"c","x":0.07,"y":0.585,"chr":10,"type":"MAF"},{"panel":"c","x":0.062,"y":0.6,"chr":10,"type":"both"},{"panel":"c","x":0.03,"y":0.49,"chr":14,"type":"MAF"},{"panel":"c","x":0.06,"y":0.48,"chr":14,"type":"MAF"},{"panel":"c","x":0.04,"y":0.485,"chr":14,"type":"both"},{"panel":"c","x":0.044,"y":0.44,"chr":11,"type":"SSPOC"},{"panel":"c","x":0.137,"y":0.48,"chr":6,"type":"SSPOC"},{"panel":"c","x":0.23,"y":0.41,"chr":7,"type":"SSPOC"},{"panel":"c","x":0.389,"y":0.47,"chr":1,"type":"SSPOC"},{"panel":"c","x":0.08,"y":0.25,"chr":4,"type":"SSPOC"},{"panel":"c","x":0.83,"y":0.496,"chr":14,"type":"SSPOC"},{"panel":"c","x":0.867,"y":0.483,"chr":4,"type":"MAF"},{"panel":"c","x":0.872,"y":0.4,"chr":1,"type":"MAF"},{"panel":"c","x":0.862,"y":0.416,"chr":14,"type":"MAF"},{"panel":"c","x":0.557,"y":0.28,"chr":14,"type":"SSPOC"},{"panel":"c","x":0.655,"y":0.29,"chr":5,"type":"SSPOC"},{"panel":"c","x":0.643,"y":0.238,"chr":10,"type":"MAF"},{"panel":"c","x":0.447,"y":0.08,"chr":5,"type":"SSPOC"},{"panel":"c","x":0.42,"y":0.1,"chr":14,"type":"SSPOC"},{"panel":"c","x":0.426,"y":0.026,"chr":10,"type":"SSPOC"},{"panel":"c","x":0.566,"y":0.07,"chr":10,"type":"MAF"},
{"panel":"f","x":0.642,"y":0.89,"chr":6,"type":"SSPOC"},{"panel":"f","x":0.562,"y":0.817,"chr":7,"type":"MAF"},{"panel":"f","x":0.632,"y":0.82,"chr":4,"type":"SSPOC"},{"panel":"f","x":0.39,"y":0.712,"chr":7,"type":"MAF"},{"panel":"f","x":0.867,"y":0.63,"chr":4,"type":"SSPOC"},{"panel":"f","x":0.142,"y":0.434,"chr":2,"type":"MAF"},{"panel":"f","x":0.188,"y":0.516,"chr":2,"type":"MAF"},{"panel":"f","x":0.205,"y":0.53,"chr":5,"type":"both"},{"panel":"f","x":0.145,"y":0.466,"chr":7,"type":"both"},{"panel":"f","x":0.157,"y":0.478,"chr":7,"type":"MAF"},{"panel":"f","x":0.17,"y":0.49,"chr":7,"type":"both"},{"panel":"f","x":0.178,"y":0.505,"chr":7,"type":"MAF"},{"panel":"f","x":0.2,"y":0.515,"chr":7,"type":"both"},{"panel":"f","x":0.215,"y":0.54,"chr":7,"type":"MAF"},{"panel":"f","x":0.225,"y":0.555,"chr":7,"type":"both"},{"panel":"f","x":0.24,"y":0.57,"chr":7,"type":"both"},{"panel":"f","x":0.29,"y":0.58,"chr":7,"type":"MAF"},{"panel":"f","x":0.265,"y":0.64,"chr":7,"type":"both"},{"panel":"f","x":0.232,"y":0.665,"chr":7,"type":"MAF"},{"panel":"f","x":0.245,"y":0.69,"chr":7,"type":"both"},{"panel":"f","x":0.25,"y":0.712,"chr":7,"type":"both"},{"panel":"f","x":0.038,"y":0.434,"chr":4,"type":"both"},{"panel":"f","x":0.097,"y":0.434,"chr":4,"type":"both"},{"panel":"f","x":0.012,"y":0.294,"chr":7,"type":"both"},{"panel":"f","x":0.114,"y":0.307,"chr":6,"type":"SSPOC"},{"panel":"f","x":0.097,"y":0.29,"chr":10,"type":"SSPOC"},{"panel":"f","x":0.165,"y":0.342,"chr":4,"type":"SSPOC"},{"panel":"f","x":0.038,"y":0.229,"chr":8,"type":"SSPOC"},{"panel":"f","x":0.028,"y":0.19,"chr":9,"type":"SSPOC"},{"panel":"f","x":0.339,"y":0.16,"chr":13,"type":"SSPOC"},{"panel":"f","x":0.432,"y":0.19,"chr":13,"type":"SSPOC"},{"panel":"f","x":0.471,"y":0.2,"chr":7,"type":"MAF"}],
"stags":[{"panel":"c","x":0.049,"y":0.95,"text":"(c)"},{"panel":"f","x":0.052,"y":0.947,"text":"(f)"}]
},
"columns":2,
"bounds":"flush",
"spacing":{"row":73.4,"column":73},
"concat":[
 {"width":790,"height":303.3,
  "resolve":{"scale":{"y":"independent"},"axis":{"y":"independent"}},
  "layer":[
   {"data":{"name":"chroms"},"mark":{"type":"rule","strokeWidth":5,"strokeCap":"butt"},"encoding":{"x":{"field":"start","type":"quantitative","scale":{"domain":[-0.209,23.373],"nice":false,"zero":false}},"x2":{"field":"end"},"y":{"datum":0,"type":"quantitative","scale":{"domain":[-1.6485,1.2483],"nice":false,"zero":false},"axis":{"orient":"left","values":[0,0.5,1],"format":"~g","domain":false,"ticks":false,"tickSize":0,"labelPadding":5,"labelFontSize":16,"offset":-7,"title":["MAF fraction","over 5 subsets"],"titleFontSize":17,"titleFontWeight":"normal","titleLineHeight":30,"titlePadding":10,"titleY":77,"grid":false}},"color":{"field":"chr","type":"nominal","legend":null,"scale":{"domain":[1,2,3,4,5,6,7,8,9,10,11,12,13,14],"range":["#0d0d35","#ff1aaa","#ffcc00","#0b5a0b","#8080ff","#a0524a","#1affc0","#127d8c","#0a0a80","#90d050","#f5a0dc","#d815f5","#7a1a6a","#ff1560"]}}}},
   {"data":{"name":"chroms"},"mark":{"type":"text","baseline":"middle","align":"center","fontSize":16,"color":"#3a3a3a"},"encoding":{"x":{"field":"mid","type":"quantitative","scale":{"domain":[-0.209,23.373],"nice":false,"zero":false}},"y":{"datum":-0.138,"type":"quantitative","scale":{"domain":[-1.6485,1.2483],"nice":false,"zero":false},"axis":null},"text":{"field":"chr"}}},
   {"data":{"values":[{}]},"mark":{"type":"rule","strokeWidth":2.5,"color":"#111"},"encoding":{"x":{"datum":0,"type":"quantitative","scale":{"domain":[-0.209,23.373],"nice":false,"zero":false}},"y":{"datum":0,"type":"quantitative","scale":{"domain":[-1.6485,1.2483],"nice":false,"zero":false},"axis":null},"y2":{"datum":1.075}}},
   {"data":{"name":"dashes"},"mark":{"type":"rule","strokeWidth":5,"strokeCap":"butt","color":"#000"},"encoding":{"x":{"field":"start","type":"quantitative","scale":{"domain":[-0.209,23.373],"nice":false,"zero":false}},"x2":{"field":"end"},"y":{"datum":1.075,"type":"quantitative","scale":{"domain":[-1.6485,1.2483],"nice":false,"zero":false},"axis":null}}},
   {"data":{"name":"marks"},"transform":[{"filter":"datum.panel == 'a'"}],"mark":{"type":"point","filled":false,"strokeWidth":5,"opacity":1,"strokeCap":"butt"},"encoding":{"x":{"field":"pos","type":"quantitative","scale":{"domain":[-0.209,23.373],"nice":false,"zero":false}},"y":{"field":"frac","type":"quantitative","scale":{"domain":[-1.6485,1.2483],"nice":false,"zero":false},"axis":null},"color":{"field":"chr","type":"nominal","legend":null,"scale":{"domain":[1,2,3,4,5,6,7,8,9,10,11,12,13,14],"range":["#0d0d35","#ff1aaa","#ffcc00","#0b5a0b","#8080ff","#a0524a","#1affc0","#127d8c","#0a0a80","#90d050","#f5a0dc","#d815f5","#7a1a6a","#ff1560"]}},"shape":{"field":"type","type":"nominal","legend":null,"scale":{"domain":["MAF","SSPOC","both"],"range":["M-1,-1L1,1M-1,1L1,-1","M-1,0L1,0M0,-1L0,1","M-1,0L1,0M0,-1L0,1M-0.72,-0.72L0.72,0.72M-0.72,0.72L0.72,-0.72"]}},"size":{"field":"type","type":"nominal","legend":null,"scale":{"domain":["MAF","SSPOC","both"],"range":[230,560,290]}}}},
   {"data":{"name":"lines"},"transform":[{"filter":"datum.panel == 'a'"}],"mark":{"type":"rule","strokeWidth":2,"color":"#ff0000"},"encoding":{"x":{"field":"pos","type":"quantitative","scale":{"domain":[-0.209,23.373],"nice":false,"zero":false}},"y":{"datum":0,"type":"quantitative","scale":{"domain":[-1.6485,1.2483],"nice":false,"zero":false},"axis":null},"y2":{"datum":1}}},
   {"data":{"name":"labels"},"transform":[{"filter":"datum.panel == 'a'"}],"mark":{"type":"text","align":"left","baseline":"middle","fontSize":16,"color":"#111"},"encoding":{"x":{"field":"pos","type":"quantitative","scale":{"domain":[-0.209,23.373],"nice":false,"zero":false}},"y":{"field":"frac","type":"quantitative","scale":{"domain":[-1.6485,1.2483],"nice":false,"zero":false},"axis":null},"text":{"field":"text"}}},
   {"data":{"name":"tags"},"transform":[{"filter":"datum.panel == 'a'"}],"mark":{"type":"text","align":"center","baseline":"middle","fontSize":18,"fontWeight":"bold","color":"#111"},"encoding":{"x":{"field":"pos","type":"quantitative","scale":{"domain":[-0.209,23.373],"nice":false,"zero":false}},"y":{"field":"frac","type":"quantitative","scale":{"domain":[-1.6485,1.2483],"nice":false,"zero":false},"axis":null},"text":{"field":"text"}}},
   {"data":{"name":"heads"},"transform":[{"filter":"datum.panel == 'a'"}],"mark":{"type":"text","align":"center","baseline":"middle","fontSize":20,"fontWeight":"bold","color":"#111"},"encoding":{"x":{"field":"pos","type":"quantitative","scale":{"domain":[-0.209,23.373],"nice":false,"zero":false}},"y":{"field":"frac","type":"quantitative","scale":{"domain":[-1.6485,1.2483],"nice":false,"zero":false},"axis":null},"text":{"field":"text"}}},
   {"data":{"name":"chroms"},"mark":{"type":"rule","strokeWidth":5,"strokeCap":"butt"},"encoding":{"x":{"field":"start","type":"quantitative","scale":{"domain":[-0.209,23.373],"nice":false,"zero":false},"axis":{"values":[0.32,1.115,2.125,3.26,4.53,5.91,7.345,8.805,10.31,11.925,13.79,15.945,18.545,21.655],"labelExpr":"'' + (indexof([0.32,1.115,2.125,3.26,4.53,5.91,7.345,8.805,10.31,11.925,13.79,15.945,18.545,21.655], datum.value) + 1)","domain":false,"ticks":false,"tickSize":0,"labelPadding":7,"labelFontSize":16,"labelOverlap":false,"labelFlush":false,"title":null,"grid":false}},"x2":{"field":"end"},"y":{"datum":0,"type":"quantitative","scale":{"domain":[0,3.0119],"nice":false,"zero":false},"axis":{"orient":"left","values":[0,0.5,1],"format":"~g","domain":false,"ticks":false,"tickSize":0,"labelPadding":5,"labelFontSize":16,"offset":-7,"title":["SSPOC fraction","over 5 subsets"],"titleFontSize":17,"titleFontWeight":"normal","titleLineHeight":30,"titlePadding":10,"titleY":247,"grid":false}},"color":{"field":"chr","type":"nominal","legend":null,"scale":{"domain":[1,2,3,4,5,6,7,8,9,10,11,12,13,14],"range":["#0d0d35","#ff1aaa","#ffcc00","#0b5a0b","#8080ff","#a0524a","#1affc0","#127d8c","#0a0a80","#90d050","#f5a0dc","#d815f5","#7a1a6a","#ff1560"]}}}},
   {"data":{"values":[{}]},"mark":{"type":"rule","strokeWidth":2.5,"color":"#111"},"encoding":{"x":{"datum":0,"type":"quantitative","scale":{"domain":[-0.209,23.373],"nice":false,"zero":false}},"y":{"datum":0,"type":"quantitative","scale":{"domain":[0,3.0119],"nice":false,"zero":false},"axis":null},"y2":{"datum":1.075}}},
   {"data":{"name":"dashes"},"mark":{"type":"rule","strokeWidth":5,"strokeCap":"butt","color":"#000"},"encoding":{"x":{"field":"start","type":"quantitative","scale":{"domain":[-0.209,23.373],"nice":false,"zero":false}},"x2":{"field":"end"},"y":{"datum":1.075,"type":"quantitative","scale":{"domain":[0,3.0119],"nice":false,"zero":false},"axis":null}}},
   {"data":{"name":"marks"},"transform":[{"filter":"datum.panel == 'b'"}],"mark":{"type":"point","filled":false,"strokeWidth":5,"opacity":1,"strokeCap":"butt"},"encoding":{"x":{"field":"pos","type":"quantitative","scale":{"domain":[-0.209,23.373],"nice":false,"zero":false}},"y":{"field":"frac","type":"quantitative","scale":{"domain":[0,3.0119],"nice":false,"zero":false},"axis":null},"color":{"field":"chr","type":"nominal","legend":null,"scale":{"domain":[1,2,3,4,5,6,7,8,9,10,11,12,13,14],"range":["#0d0d35","#ff1aaa","#ffcc00","#0b5a0b","#8080ff","#a0524a","#1affc0","#127d8c","#0a0a80","#90d050","#f5a0dc","#d815f5","#7a1a6a","#ff1560"]}},"shape":{"field":"type","type":"nominal","legend":null,"scale":{"domain":["MAF","SSPOC","both"],"range":["M-1,-1L1,1M-1,1L1,-1","M-1,0L1,0M0,-1L0,1","M-1,0L1,0M0,-1L0,1M-0.72,-0.72L0.72,0.72M-0.72,0.72L0.72,-0.72"]}},"size":{"field":"type","type":"nominal","legend":null,"scale":{"domain":["MAF","SSPOC","both"],"range":[230,560,290]}}}},
   {"data":{"name":"lines"},"transform":[{"filter":"datum.panel == 'b'"}],"mark":{"type":"rule","strokeWidth":2,"color":"#ff0000"},"encoding":{"x":{"field":"pos","type":"quantitative","scale":{"domain":[-0.209,23.373],"nice":false,"zero":false}},"y":{"datum":0,"type":"quantitative","scale":{"domain":[0,3.0119],"nice":false,"zero":false},"axis":null},"y2":{"datum":1}}},
   {"data":{"name":"labels"},"transform":[{"filter":"datum.panel == 'b'"}],"mark":{"type":"text","align":"left","baseline":"middle","fontSize":16,"color":"#111"},"encoding":{"x":{"field":"pos","type":"quantitative","scale":{"domain":[-0.209,23.373],"nice":false,"zero":false}},"y":{"field":"frac","type":"quantitative","scale":{"domain":[0,3.0119],"nice":false,"zero":false},"axis":null},"text":{"field":"text"}}},
   {"data":{"name":"tags"},"transform":[{"filter":"datum.panel == 'b'"}],"mark":{"type":"text","align":"center","baseline":"middle","fontSize":18,"fontWeight":"bold","color":"#111"},"encoding":{"x":{"field":"pos","type":"quantitative","scale":{"domain":[-0.209,23.373],"nice":false,"zero":false}},"y":{"field":"frac","type":"quantitative","scale":{"domain":[0,3.0119],"nice":false,"zero":false},"axis":null},"text":{"field":"text"}}}
  ]},
 {"width":353,"height":283.3,"resolve":{"axis":{"x":"independent"}},"layer":[
  {"data":{"name":"cloud"},"transform":[{"filter":"datum.panel == 'c'"}],"mark":{"type":"area","color":"#cccccc","opacity":1},"encoding":{"x":{"field":"x","type":"quantitative","scale":{"domain":[-0.05,1.036],"nice":false,"zero":false},"axis":{"orient":"bottom","values":[0,0.2,0.4,0.6,0.8,1],"format":"~g","domainColor":"#222","domainWidth":2.5,"tickColor":"#222","tickWidth":1.5,"tickSize":-4,"labelPadding":11,"labelFontSize":16,"labelFlush":false,"labelOverlap":false,"title":"mean(MAF) LA (n=85)","titleFontSize":17,"titleFontWeight":"normal","titlePadding":6,"grid":false}},"y":{"field":"lo","type":"quantitative","scale":{"domain":[-0.045,1.049],"nice":false,"zero":false},"axis":{"values":[0,0.2,0.4,0.6,0.8,1],"format":"~g","domainColor":"#222","domainWidth":2.5,"tickColor":"#222","tickWidth":1.5,"tickSize":-4,"labelPadding":15,"labelFontSize":16,"labelFlush":false,"labelOverlap":false,"title":"mean(MAF) VN (n=97)","titleFontSize":17,"titleFontWeight":"normal","titlePadding":8,"grid":false}},"y2":{"field":"hi"}}},
  {"data":{"name":"gray"},"transform":[{"filter":"datum.panel == 'c'"}],"mark":{"type":"circle","size":30,"color":"#cccccc","opacity":1},"encoding":{"x":{"field":"x","type":"quantitative","scale":{"domain":[-0.05,1.036],"nice":false,"zero":false},"axis":null},"y":{"field":"y","type":"quantitative","scale":{"domain":[-0.045,1.049],"nice":false,"zero":false}}}},
  {"data":{"name":"red"},"transform":[{"filter":"datum.panel == 'c'"}],"mark":{"type":"circle","size":6,"color":"#8b0000","opacity":1},"encoding":{"x":{"field":"x","type":"quantitative","scale":{"domain":[-0.05,1.036],"nice":false,"zero":false},"axis":null},"y":{"field":"y","type":"quantitative","scale":{"domain":[-0.045,1.049],"nice":false,"zero":false}}}},
  {"data":{"name":"scat"},"transform":[{"filter":"datum.panel == 'c'"}],"mark":{"type":"point","filled":false,"strokeWidth":4.5,"opacity":1,"strokeCap":"butt"},"encoding":{"x":{"field":"x","type":"quantitative","scale":{"domain":[-0.05,1.036],"nice":false,"zero":false},"axis":null},"y":{"field":"y","type":"quantitative","scale":{"domain":[-0.045,1.049],"nice":false,"zero":false}},"color":{"field":"chr","type":"nominal","legend":null,"scale":{"domain":[1,2,3,4,5,6,7,8,9,10,11,12,13,14],"range":["#0d0d35","#ff1aaa","#ffcc00","#0b5a0b","#8080ff","#a0524a","#1affc0","#127d8c","#0a0a80","#90d050","#f5a0dc","#d815f5","#7a1a6a","#ff1560"]}},"shape":{"field":"type","type":"nominal","legend":null,"scale":{"domain":["MAF","SSPOC","both"],"range":["M-1,-1L1,1M-1,1L1,-1","M-1,0L1,0M0,-1L0,1","M-1,0L1,0M0,-1L0,1M-0.72,-0.72L0.72,0.72M-0.72,0.72L0.72,-0.72"]}},"size":{"field":"type","type":"nominal","legend":null,"scale":{"domain":["MAF","SSPOC","both"],"range":[210,500,290]}}}},
  {"data":{"name":"stags"},"transform":[{"filter":"datum.panel == 'c'"}],"mark":{"type":"text","align":"center","baseline":"middle","fontSize":18,"fontWeight":"bold","color":"#111"},"encoding":{"x":{"field":"x","type":"quantitative","scale":{"domain":[-0.05,1.036],"nice":false,"zero":false},"axis":{"orient":"top","values":[0,0.2,0.4,0.6,0.8,1],"domainColor":"#222","domainWidth":2.5,"tickColor":"#222","tickWidth":1.5,"tickSize":-4,"labels":false,"title":null,"grid":false}},"y":{"field":"y","type":"quantitative","scale":{"domain":[-0.045,1.049],"nice":false,"zero":false}},"text":{"field":"text"}}}
 ]},
 {"width":790,"height":282.3,
  "resolve":{"scale":{"y":"independent"},"axis":{"y":"independent"}},
  "layer":[
   {"data":{"name":"chroms"},"mark":{"type":"rule","strokeWidth":5,"strokeCap":"butt"},"encoding":{"x":{"field":"start","type":"quantitative","scale":{"domain":[0,23.3],"nice":false,"zero":false}},"x2":{"field":"end"},"y":{"datum":0,"type":"quantitative","scale":{"domain":[-1.5072,1.215],"nice":false,"zero":false},"axis":{"orient":"left","values":[0,0.5,1],"format":"~g","domain":false,"ticks":false,"tickSize":0,"labelPadding":4,"labelFontSize":16,"title":["MAF fraction","over 25 subsets"],"titleFontSize":17,"titleFontWeight":"normal","titleLineHeight":30,"titlePadding":3,"titleY":71.5,"grid":false}},"color":{"field":"chr","type":"nominal","legend":null,"scale":{"domain":[1,2,3,4,5,6,7,8,9,10,11,12,13,14],"range":["#0d0d35","#ff1aaa","#ffcc00","#0b5a0b","#8080ff","#a0524a","#1affc0","#127d8c","#0a0a80","#90d050","#f5a0dc","#d815f5","#7a1a6a","#ff1560"]}}}},
   {"data":{"name":"chroms"},"mark":{"type":"text","baseline":"middle","align":"center","fontSize":16,"color":"#3a3a3a"},"encoding":{"x":{"field":"mid","type":"quantitative","scale":{"domain":[0,23.3],"nice":false,"zero":false}},"y":{"datum":-0.14,"type":"quantitative","scale":{"domain":[-1.5072,1.215],"nice":false,"zero":false},"axis":null},"text":{"field":"chr"}}},
   {"data":{"values":[{}]},"mark":{"type":"rule","strokeWidth":2.5,"color":"#111"},"encoding":{"x":{"datum":0,"type":"quantitative","scale":{"domain":[0,23.3],"nice":false,"zero":false}},"y":{"datum":0,"type":"quantitative","scale":{"domain":[-1.5072,1.215],"nice":false,"zero":false},"axis":null},"y2":{"datum":1.075}}},
   {"data":{"name":"dashes"},"mark":{"type":"rule","strokeWidth":5,"strokeCap":"butt","color":"#000"},"encoding":{"x":{"field":"start","type":"quantitative","scale":{"domain":[0,23.3],"nice":false,"zero":false}},"x2":{"field":"end"},"y":{"datum":1.075,"type":"quantitative","scale":{"domain":[-1.5072,1.215],"nice":false,"zero":false},"axis":null}}},
   {"data":{"name":"marks"},"transform":[{"filter":"datum.panel == 'd'"}],"mark":{"type":"point","filled":false,"strokeWidth":5,"opacity":1,"strokeCap":"butt"},"encoding":{"x":{"field":"pos","type":"quantitative","scale":{"domain":[0,23.3],"nice":false,"zero":false}},"y":{"field":"frac","type":"quantitative","scale":{"domain":[-1.5072,1.215],"nice":false,"zero":false},"axis":null},"color":{"field":"chr","type":"nominal","legend":null,"scale":{"domain":[1,2,3,4,5,6,7,8,9,10,11,12,13,14],"range":["#0d0d35","#ff1aaa","#ffcc00","#0b5a0b","#8080ff","#a0524a","#1affc0","#127d8c","#0a0a80","#90d050","#f5a0dc","#d815f5","#7a1a6a","#ff1560"]}},"shape":{"field":"type","type":"nominal","legend":null,"scale":{"domain":["MAF","SSPOC","both"],"range":["M-1,-1L1,1M-1,1L1,-1","M-1,0L1,0M0,-1L0,1","M-1,0L1,0M0,-1L0,1M-0.72,-0.72L0.72,0.72M-0.72,0.72L0.72,-0.72"]}},"size":{"field":"type","type":"nominal","legend":null,"scale":{"domain":["MAF","SSPOC","both"],"range":[230,560,290]}}}},
   {"data":{"name":"lines"},"transform":[{"filter":"datum.panel == 'd'"}],"mark":{"type":"rule","strokeWidth":2,"color":"#ff0000"},"encoding":{"x":{"field":"pos","type":"quantitative","scale":{"domain":[0,23.3],"nice":false,"zero":false}},"y":{"datum":0,"type":"quantitative","scale":{"domain":[-1.5072,1.215],"nice":false,"zero":false},"axis":null},"y2":{"datum":1}}},
   {"data":{"name":"labels"},"transform":[{"filter":"datum.panel == 'd'"}],"mark":{"type":"text","align":"left","baseline":"middle","fontSize":16,"color":"#111"},"encoding":{"x":{"field":"pos","type":"quantitative","scale":{"domain":[0,23.3],"nice":false,"zero":false}},"y":{"field":"frac","type":"quantitative","scale":{"domain":[-1.5072,1.215],"nice":false,"zero":false},"axis":null},"text":{"field":"text"}}},
   {"data":{"name":"tags"},"transform":[{"filter":"datum.panel == 'd'"}],"mark":{"type":"text","align":"center","baseline":"middle","fontSize":18,"fontWeight":"bold","color":"#111"},"encoding":{"x":{"field":"pos","type":"quantitative","scale":{"domain":[0,23.3],"nice":false,"zero":false}},"y":{"field":"frac","type":"quantitative","scale":{"domain":[-1.5072,1.215],"nice":false,"zero":false},"axis":null},"text":{"field":"text"}}},
   {"data":{"name":"heads"},"transform":[{"filter":"datum.panel == 'd'"}],"mark":{"type":"text","align":"center","baseline":"middle","fontSize":20,"fontWeight":"bold","color":"#111"},"encoding":{"x":{"field":"pos","type":"quantitative","scale":{"domain":[0,23.3],"nice":false,"zero":false}},"y":{"field":"frac","type":"quantitative","scale":{"domain":[-1.5072,1.215],"nice":false,"zero":false},"axis":null},"text":{"field":"text"}}},
   {"data":{"name":"chroms"},"mark":{"type":"rule","strokeWidth":5,"strokeCap":"butt"},"encoding":{"x":{"field":"start","type":"quantitative","scale":{"domain":[0,23.3],"nice":false,"zero":false},"axis":{"values":[0.32,1.115,2.125,3.26,4.53,5.91,7.345,8.805,10.31,11.925,13.79,15.945,18.545,21.655],"labelExpr":"'' + (indexof([0.32,1.115,2.125,3.26,4.53,5.91,7.345,8.805,10.31,11.925,13.79,15.945,18.545,21.655], datum.value) + 1)","domain":false,"ticks":false,"tickSize":0,"labelPadding":7,"labelFontSize":16,"labelOverlap":false,"labelFlush":false,"title":"Pf3D7 chr","titleFontSize":17,"titleFontWeight":"normal","titlePadding":6,"grid":false}},"x2":{"field":"end"},"y":{"datum":0,"type":"quantitative","scale":{"domain":[0,3.3607],"nice":false,"zero":false},"axis":{"orient":"left","values":[0,0.5,1],"format":"~g","domain":false,"ticks":false,"tickSize":0,"labelPadding":4,"labelFontSize":16,"title":["SSPOC fraction","over 25 subsets"],"titleFontSize":17,"titleFontWeight":"normal","titleLineHeight":30,"titlePadding":3,"titleY":239,"grid":false}},"color":{"field":"chr","type":"nominal","legend":null,"scale":{"domain":[1,2,3,4,5,6,7,8,9,10,11,12,13,14],"range":["#0d0d35","#ff1aaa","#ffcc00","#0b5a0b","#8080ff","#a0524a","#1affc0","#127d8c","#0a0a80","#90d050","#f5a0dc","#d815f5","#7a1a6a","#ff1560"]}}}},
   {"data":{"values":[{}]},"mark":{"type":"rule","strokeWidth":2.5,"color":"#111"},"encoding":{"x":{"datum":0,"type":"quantitative","scale":{"domain":[0,23.3],"nice":false,"zero":false}},"y":{"datum":0,"type":"quantitative","scale":{"domain":[0,3.3607],"nice":false,"zero":false},"axis":null},"y2":{"datum":1.075}}},
   {"data":{"name":"dashes"},"mark":{"type":"rule","strokeWidth":5,"strokeCap":"butt","color":"#000"},"encoding":{"x":{"field":"start","type":"quantitative","scale":{"domain":[0,23.3],"nice":false,"zero":false}},"x2":{"field":"end"},"y":{"datum":1.075,"type":"quantitative","scale":{"domain":[0,3.3607],"nice":false,"zero":false},"axis":null}}},
   {"data":{"name":"marks"},"transform":[{"filter":"datum.panel == 'e'"}],"mark":{"type":"point","filled":false,"strokeWidth":5,"opacity":1,"strokeCap":"butt"},"encoding":{"x":{"field":"pos","type":"quantitative","scale":{"domain":[0,23.3],"nice":false,"zero":false}},"y":{"field":"frac","type":"quantitative","scale":{"domain":[0,3.3607],"nice":false,"zero":false},"axis":null},"color":{"field":"chr","type":"nominal","legend":null,"scale":{"domain":[1,2,3,4,5,6,7,8,9,10,11,12,13,14],"range":["#0d0d35","#ff1aaa","#ffcc00","#0b5a0b","#8080ff","#a0524a","#1affc0","#127d8c","#0a0a80","#90d050","#f5a0dc","#d815f5","#7a1a6a","#ff1560"]}},"shape":{"field":"type","type":"nominal","legend":null,"scale":{"domain":["MAF","SSPOC","both"],"range":["M-1,-1L1,1M-1,1L1,-1","M-1,0L1,0M0,-1L0,1","M-1,0L1,0M0,-1L0,1M-0.72,-0.72L0.72,0.72M-0.72,0.72L0.72,-0.72"]}},"size":{"field":"type","type":"nominal","legend":null,"scale":{"domain":["MAF","SSPOC","both"],"range":[230,620,290]}}}},
   {"data":{"name":"lines"},"transform":[{"filter":"datum.panel == 'e'"}],"mark":{"type":"rule","strokeWidth":2,"color":"#ff0000"},"encoding":{"x":{"field":"pos","type":"quantitative","scale":{"domain":[0,23.3],"nice":false,"zero":false}},"y":{"datum":0,"type":"quantitative","scale":{"domain":[0,3.3607],"nice":false,"zero":false},"axis":null},"y2":{"datum":1}}},
   {"data":{"name":"labels"},"transform":[{"filter":"datum.panel == 'e'"}],"mark":{"type":"text","align":"left","baseline":"middle","fontSize":16,"color":"#111"},"encoding":{"x":{"field":"pos","type":"quantitative","scale":{"domain":[0,23.3],"nice":false,"zero":false}},"y":{"field":"frac","type":"quantitative","scale":{"domain":[0,3.3607],"nice":false,"zero":false},"axis":null},"text":{"field":"text"}}},
   {"data":{"name":"tags"},"transform":[{"filter":"datum.panel == 'e'"}],"mark":{"type":"text","align":"center","baseline":"middle","fontSize":18,"fontWeight":"bold","color":"#111"},"encoding":{"x":{"field":"pos","type":"quantitative","scale":{"domain":[0,23.3],"nice":false,"zero":false}},"y":{"field":"frac","type":"quantitative","scale":{"domain":[0,3.3607],"nice":false,"zero":false},"axis":null},"text":{"field":"text"}}}
  ]},
 {"width":353,"height":279.3,"resolve":{"axis":{"x":"independent"}},"layer":[
  {"data":{"name":"cloud"},"transform":[{"filter":"datum.panel == 'f'"}],"mark":{"type":"area","color":"#cccccc","opacity":1},"encoding":{"x":{"field":"x","type":"quantitative","scale":{"domain":[-0.046,1.052],"nice":false,"zero":false},"axis":{"orient":"bottom","values":[0,0.2,0.4,0.6,0.8,1],"format":"~g","domainColor":"#222","domainWidth":2.5,"tickColor":"#222","tickWidth":1.5,"tickSize":-4,"labelPadding":11,"labelFontSize":16,"labelFlush":false,"labelOverlap":false,"title":"mean(MAF) GH (n=478)","titleFontSize":17,"titleFontWeight":"normal","titlePadding":8,"grid":false}},"y":{"field":"lo","type":"quantitative","scale":{"domain":[-0.05,1.045],"nice":false,"zero":false},"axis":{"values":[0,0.2,0.4,0.6,0.8,1],"format":"~g","domainColor":"#222","domainWidth":2.5,"tickColor":"#222","tickWidth":1.5,"tickSize":-4,"labelPadding":9,"labelFontSize":16,"labelFlush":false,"labelOverlap":false,"title":"mean(MAF) GN (n=100)","titleFontSize":17,"titleFontWeight":"normal","titlePadding":12,"grid":false}},"y2":{"field":"hi"}}},
  {"data":{"name":"gray"},"transform":[{"filter":"datum.panel == 'f'"}],"mark":{"type":"circle","size":30,"color":"#cccccc","opacity":1},"encoding":{"x":{"field":"x","type":"quantitative","scale":{"domain":[-0.046,1.052],"nice":false,"zero":false},"axis":null},"y":{"field":"y","type":"quantitative","scale":{"domain":[-0.05,1.045],"nice":false,"zero":false}}}},
  {"data":{"name":"red"},"transform":[{"filter":"datum.panel == 'f'"}],"mark":{"type":"circle","size":6,"color":"#8b0000","opacity":1},"encoding":{"x":{"field":"x","type":"quantitative","scale":{"domain":[-0.046,1.052],"nice":false,"zero":false},"axis":null},"y":{"field":"y","type":"quantitative","scale":{"domain":[-0.05,1.045],"nice":false,"zero":false}}}},
  {"data":{"name":"scat"},"transform":[{"filter":"datum.panel == 'f'"}],"mark":{"type":"point","filled":false,"strokeWidth":4.5,"opacity":1,"strokeCap":"butt"},"encoding":{"x":{"field":"x","type":"quantitative","scale":{"domain":[-0.046,1.052],"nice":false,"zero":false},"axis":null},"y":{"field":"y","type":"quantitative","scale":{"domain":[-0.05,1.045],"nice":false,"zero":false}},"color":{"field":"chr","type":"nominal","legend":null,"scale":{"domain":[1,2,3,4,5,6,7,8,9,10,11,12,13,14],"range":["#0d0d35","#ff1aaa","#ffcc00","#0b5a0b","#8080ff","#a0524a","#1affc0","#127d8c","#0a0a80","#90d050","#f5a0dc","#d815f5","#7a1a6a","#ff1560"]}},"shape":{"field":"type","type":"nominal","legend":null,"scale":{"domain":["MAF","SSPOC","both"],"range":["M-1,-1L1,1M-1,1L1,-1","M-1,0L1,0M0,-1L0,1","M-1,0L1,0M0,-1L0,1M-0.72,-0.72L0.72,0.72M-0.72,0.72L0.72,-0.72"]}},"size":{"field":"type","type":"nominal","legend":null,"scale":{"domain":["MAF","SSPOC","both"],"range":[210,500,290]}}}},
  {"data":{"name":"stags"},"transform":[{"filter":"datum.panel == 'f'"}],"mark":{"type":"text","align":"center","baseline":"middle","fontSize":18,"fontWeight":"bold","color":"#111"},"encoding":{"x":{"field":"x","type":"quantitative","scale":{"domain":[-0.046,1.052],"nice":false,"zero":false},"axis":{"orient":"top","values":[0,0.2,0.4,0.6,0.8,1],"domainColor":"#222","domainWidth":2.5,"tickColor":"#222","tickWidth":1.5,"tickSize":-4,"labels":false,"title":null,"grid":false}},"y":{"field":"y","type":"quantitative","scale":{"domain":[-0.05,1.045],"nice":false,"zero":false}},"text":{"field":"text"}}}
 ]}
]
}
